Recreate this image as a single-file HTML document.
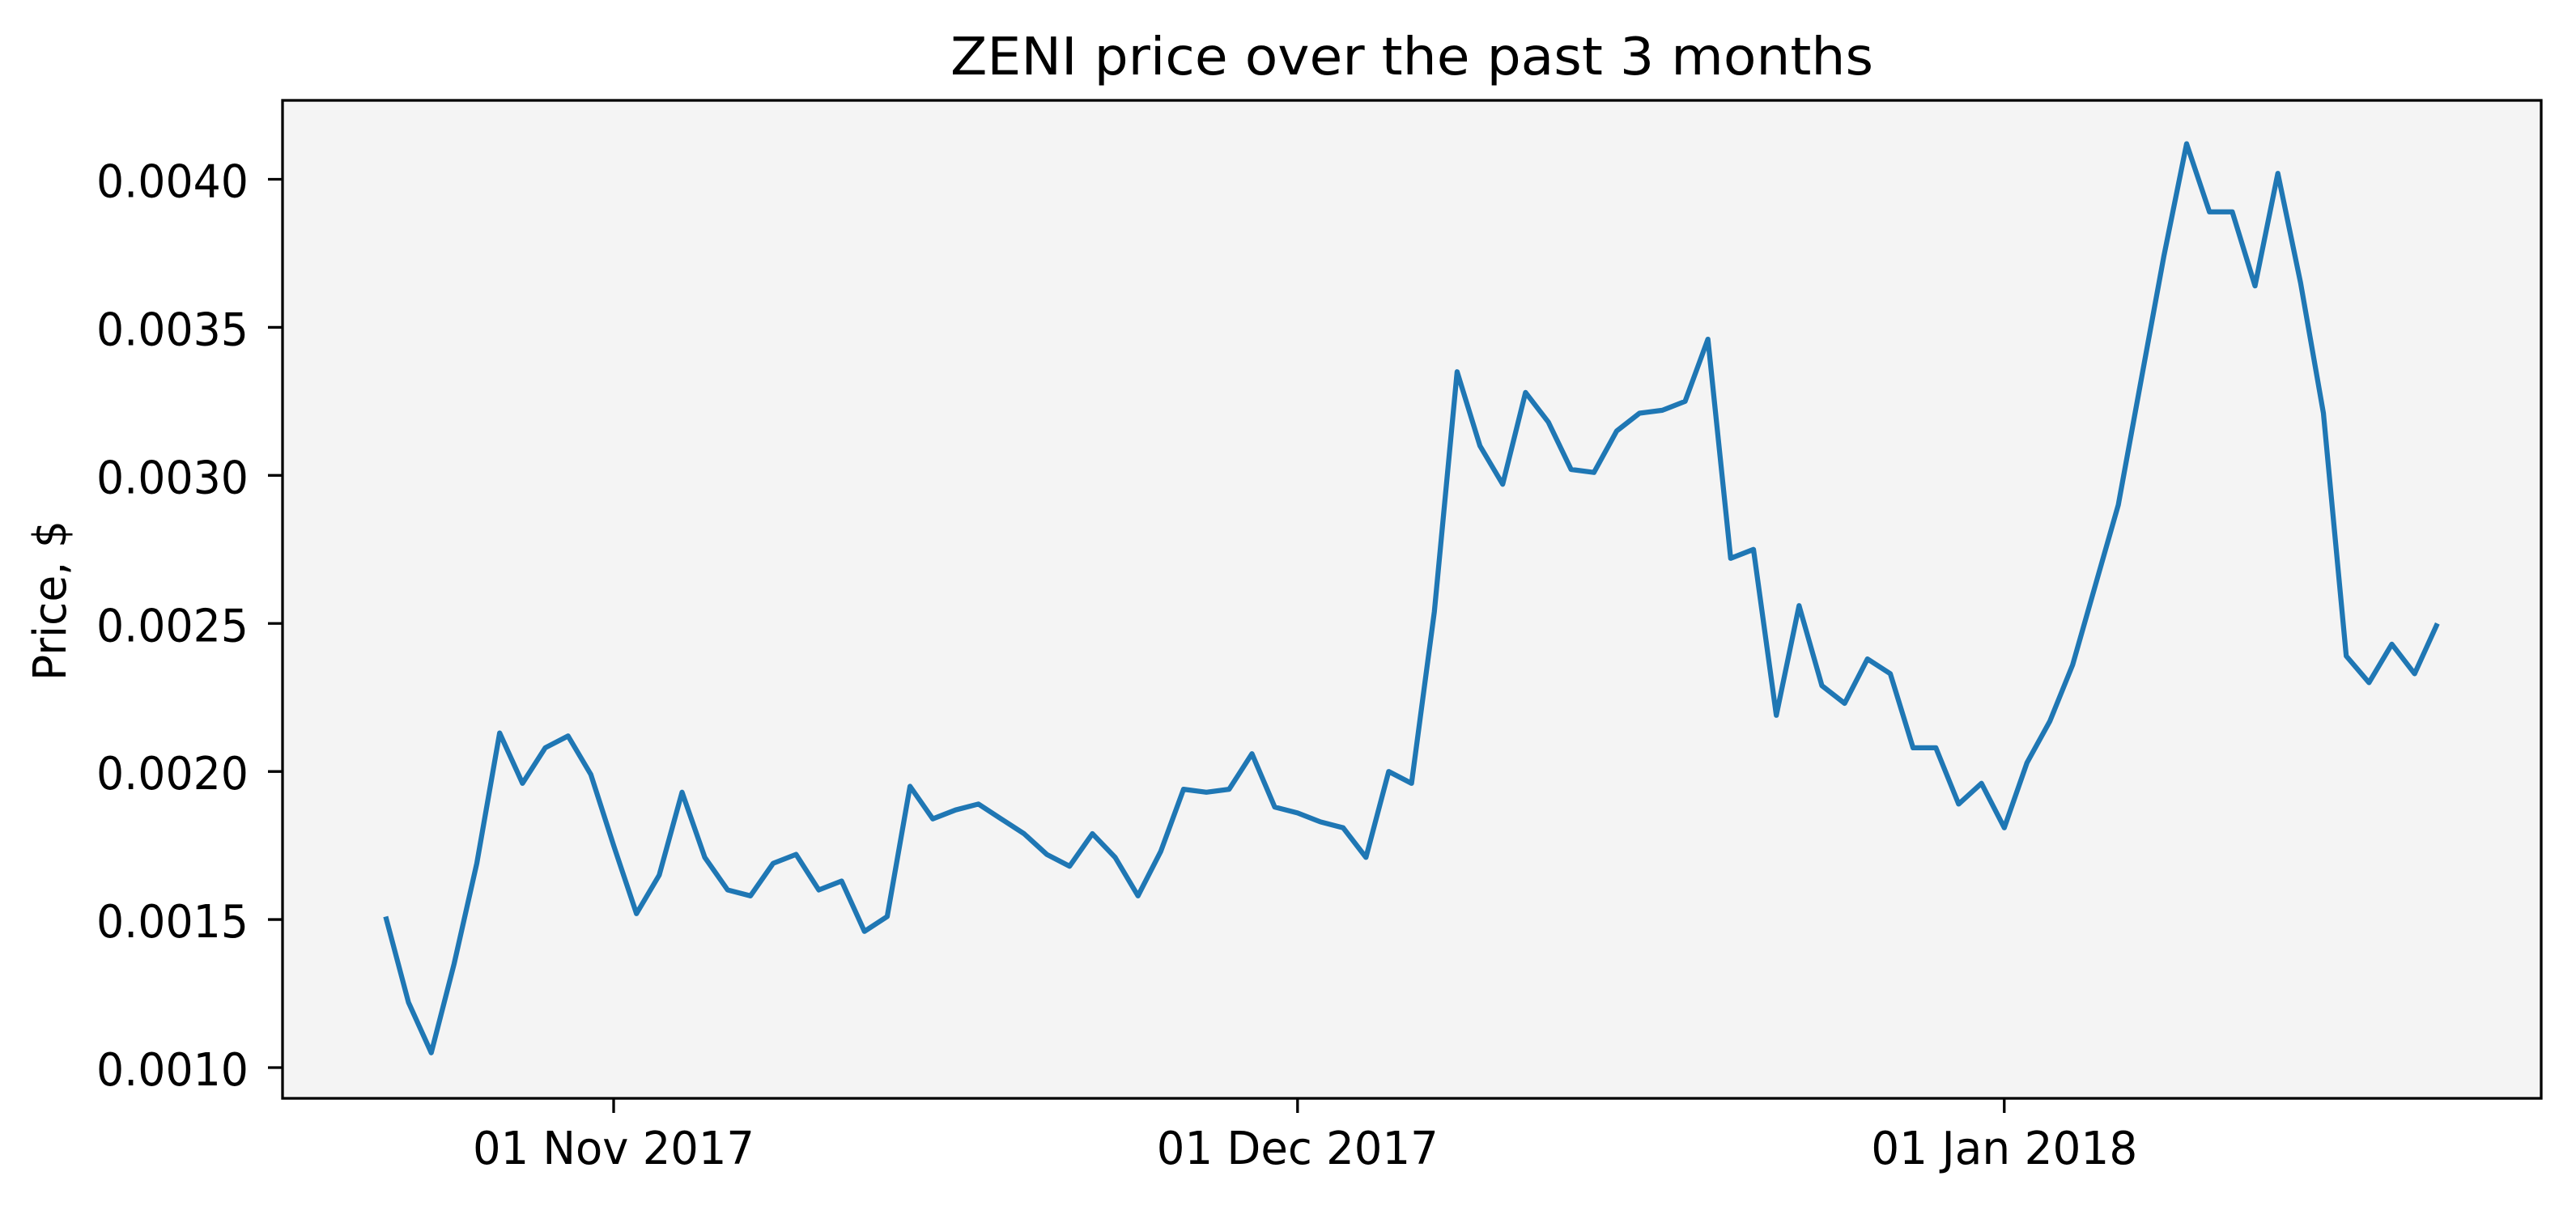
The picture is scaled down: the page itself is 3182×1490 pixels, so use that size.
<!DOCTYPE html>
<html><head><meta charset="utf-8"><style>
html,body{margin:0;padding:0;background:#fff;}
svg{display:block;}
text{font-family:"DejaVu Sans","Liberation Sans",sans-serif;fill:#000;}
</style></head><body>
<svg id="chart" width="3182" height="1490" viewBox="0 0 3182 1490">
<rect x="0" y="0" width="3182" height="1490" fill="#fff"/>
<rect x="349" y="124" width="2790" height="1233" fill="#f4f4f4"/>
<text x="1744" y="92" font-size="64" text-anchor="middle" textLength="1140" lengthAdjust="spacingAndGlyphs">ZENI price over the past 3 months</text>
<text transform="translate(81,742) rotate(-90)" font-size="56" text-anchor="middle" textLength="198" lengthAdjust="spacingAndGlyphs">Price, $</text>
<g id="marks"></g>
<rect x="349" y="124" width="2790" height="1233" fill="none" stroke="#000" stroke-width="3.3"/>
</svg>
<script>
const startDate = [2017, 9, 22];
const prices = [0.00151,0.00122,0.00105,0.00135,0.00169,0.00213,0.00196,0.00208,0.00212,0.00199,
0.00175,0.00152,0.00165,0.00193,0.00171,0.00160,0.00158,0.00169,0.00172,0.00160,
0.00163,0.00146,0.00151,0.00195,0.00184,0.00187,0.00189,0.00184,0.00179,0.00172,
0.00168,0.00179,0.00171,0.00158,0.00173,0.00194,0.00193,0.00194,0.00206,0.00188,
0.00186,0.00183,0.00181,0.00171,0.00200,0.00196,0.00254,0.00335,0.00310,0.00297,
0.00328,0.00318,0.00302,0.00301,0.00315,0.00321,0.00322,0.00325,0.00346,0.00272,
0.00275,0.00219,0.00256,0.00229,0.00223,0.00238,0.00233,0.00208,0.00208,0.00189,
0.00196,0.00181,0.00203,0.00217,0.00236,0.00263,0.00290,0.00332,0.00374,0.00412,
0.00389,0.00389,0.00364,0.00402,0.00365,0.00321,0.00239,0.00230,0.00243,0.00233,0.00250];
const yTicks = [0.0010,0.0015,0.0020,0.0025,0.0030,0.0035,0.0040];
const yTickLabels = ["0.0010","0.0015","0.0020","0.0025","0.0030","0.0035","0.0040"];
const xTickDates = [[2017,10,1],[2017,11,1],[2018,0,1]];
const xTickLabels = ["01 Nov 2017","01 Dec 2017","01 Jan 2018"];

const NS = "http://www.w3.org/2000/svg";
const marks = document.getElementById('marks');
const day0 = Date.UTC(2017,10,1);
function xDate(d){ return 758 + (Date.UTC(d[0],d[1],d[2]) - day0)/86400000 * 28.16; }
function xIndex(i){ return xDate(startDate) + i*28.16; }
function y(v){ return 1319 - (v - 0.0010)/0.0030 * 1097.5; }
function mk(tag, attrs){ const e=document.createElementNS(NS,tag); for(const k in attrs) e.setAttribute(k,attrs[k]); marks.appendChild(e); return e; }

yTicks.forEach((v,i)=>{
  const t = mk('line',{x1:331,x2:349,y1:y(v),y2:y(v),stroke:'#000','stroke-width':3.3});
  
  
  const l = mk('text',{x:307,y:y(v)+22,'font-size':56,'text-anchor':'end',textLength:188,lengthAdjust:'spacingAndGlyphs'});
  l.textContent = yTickLabels[i];
  
  
});
xTickDates.forEach((d,i)=>{
  const x = xDate(d);
  const t = mk('line',{x1:x,x2:x,y1:1357,y2:1375,stroke:'#000','stroke-width':3.3});
  
  
  const l = mk('text',{x:x,y:1438,'font-size':56,'text-anchor':'middle',textLength:i==2?329:348,lengthAdjust:'spacingAndGlyphs'});
  l.textContent = xTickLabels[i];
  
  
});
const pts = prices.map((v,i)=>xIndex(i).toFixed(1)+','+y(v).toFixed(1)).join(' ');
const line = mk('polyline',{points:pts,fill:'none',stroke:'#1f77b4','stroke-width':6.25,'stroke-linejoin':'round'});


</script>
</body></html>
